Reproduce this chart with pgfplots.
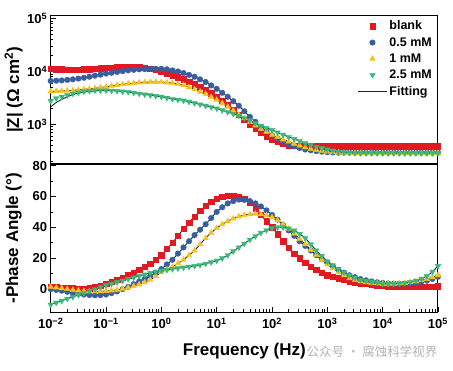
\documentclass[border=0pt]{standalone}
\usepackage{fontspec}
\setmainfont{Liberation Sans}
\newfontfamily\cjk{Noto Sans CJK SC}
\usepackage{pgfplots}
\usepackage{pgfplotstable}
\pgfplotsset{compat=1.18}

\definecolor{cred}{RGB}{225,25,35}
\definecolor{cblue}{RGB}{55,95,160}
\definecolor{cyel}{RGB}{245,195,30}
\definecolor{cgreen}{RGB}{55,185,120}
\definecolor{cfit}{RGB}{35,35,35}

% log10 |Z| values
\pgfplotstableread{
lf   blank c05  c1   c25  f25
-2.0 4.05 3.82 3.62 3.44 3.33
-1.9 4.045 3.825 3.625 3.49 3.41
-1.8 4.04 3.83 3.63 3.52 3.47
-1.7 4.035 3.84 3.635 3.55 3.52
-1.6 4.03 3.85 3.64 3.58 3.56
-1.5 4.035 3.865 3.65 3.60 3.59
-1.4 4.04 3.88 3.66 3.62 3.61
-1.3 4.045 3.90 3.67 3.63 3.62
-1.2 4.05 3.92 3.68 3.64 3.63
-1.1 4.06 3.94 3.695 3.64 3.64
-1.0 4.07 3.96 3.71 3.64 3.64
-0.9 4.075 3.975 3.725 3.635 3.635
-0.8 4.08 3.99 3.74 3.63 3.63
-0.7 4.085 4.005 3.755 3.62 3.62
-0.6 4.09 4.02 3.77 3.61 3.61
-0.5 4.085 4.03 3.78 3.595 3.595
-0.4 4.08 4.04 3.79 3.58 3.58
-0.3 4.07 4.045 3.795 3.565 3.565
-0.2 4.05 4.05 3.80 3.55 3.55
-0.1 4.03 4.05 3.80 3.535 3.535
0.0 4.00 4.05 3.80 3.52 3.52
0.1 3.97 4.04 3.79 3.50 3.50
0.2 3.93 4.02 3.78 3.48 3.48
0.3 3.89 4.00 3.76 3.465 3.465
0.4 3.85 3.97 3.74 3.45 3.45
0.5 3.805 3.935 3.70 3.425 3.425
0.6 3.76 3.90 3.66 3.40 3.40
0.7 3.71 3.85 3.615 3.375 3.375
0.8 3.65 3.80 3.57 3.35 3.35
0.9 3.585 3.735 3.515 3.325 3.325
1.0 3.52 3.67 3.46 3.30 3.30
1.1 3.445 3.595 3.395 3.265 3.265
1.2 3.37 3.52 3.33 3.23 3.23
1.3 3.275 3.435 3.255 3.195 3.195
1.4 3.18 3.35 3.18 3.16 3.16
1.5 3.09 3.245 3.11 3.115 3.115
1.6 3.00 3.14 3.04 3.07 3.07
1.7 2.92 3.045 2.975 3.02 3.02
1.8 2.84 2.95 2.91 2.97 2.97
1.9 2.77 2.87 2.855 2.93 2.93
2.0 2.71 2.79 2.80 2.89 2.89
2.1 2.665 2.73 2.755 2.845 2.845
2.2 2.63 2.67 2.71 2.80 2.80
2.3 2.605 2.62 2.67 2.76 2.76
2.4 2.59 2.58 2.63 2.72 2.72
2.5 2.585 2.55 2.595 2.68 2.68
2.6 2.58 2.52 2.56 2.64 2.64
2.7 2.58 2.505 2.535 2.605 2.605
2.8 2.58 2.49 2.51 2.57 2.57
2.9 2.58 2.48 2.495 2.545 2.545
3.0 2.58 2.47 2.48 2.52 2.52
3.1 2.58 2.465 2.47 2.50 2.50
3.2 2.58 2.46 2.46 2.48 2.48
3.3 2.58 2.46 2.455 2.47 2.47
3.4 2.58 2.46 2.45 2.46 2.46
3.5 2.58 2.46 2.45 2.455 2.455
3.6 2.58 2.46 2.45 2.45 2.45
3.7 2.58 2.46 2.45 2.45 2.45
3.8 2.58 2.46 2.45 2.45 2.45
3.9 2.58 2.46 2.45 2.45 2.45
4.0 2.58 2.46 2.45 2.45 2.45
4.1 2.58 2.46 2.45 2.45 2.45
4.2 2.58 2.46 2.45 2.45 2.45
4.3 2.58 2.46 2.45 2.45 2.45
4.4 2.58 2.46 2.45 2.45 2.45
4.5 2.58 2.46 2.45 2.45 2.45
4.6 2.58 2.46 2.45 2.45 2.45
4.7 2.58 2.46 2.45 2.45 2.45
4.8 2.58 2.46 2.45 2.45 2.45
4.9 2.58 2.46 2.45 2.45 2.45
5.0 2.58 2.46 2.45 2.45 2.45
}\zdata

% -phase angle (deg)
\pgfplotstableread{
lf   blank c05  c1   c25
-2.0 1.5 0.0 1.5 -10
-1.9 1.2 -0.5 1.0 -8.7
-1.8 1.0 -1.0 0.5 -7.5
-1.7 0.7 -1.7 0.0 -6.2
-1.6 0.5 -2.5 -0.5 -5
-1.5 0.3 -3.0 -0.9 -3.7
-1.4 0.3 -3.5 -1.2 -2.5
-1.3 0.8 -3.8 -1.4 -1.2
-1.2 1.5 -4.0 -1.5 0
-1.1 2.4 -3.9 -1.4 1.3
-1.0 3.5 -3.5 -1.2 2.5
-0.9 4.7 -2.6 -0.9 3.5
-0.8 6.0 -1.5 -0.5 4.5
-0.7 7.5 0.0 0.2 5.5
-0.6 9.0 1.5 1.0 6.5
-0.5 10.7 3.2 2.0 7.5
-0.4 12.5 5.0 3.0 8.5
-0.3 14.4 6.7 4.4 9.5
-0.2 16.5 8.5 6.0 10.5
-0.1 19.0 10.7 8.4 11.3
0.0 22 13 11 12
0.1 26 16 12.7 12.5
0.2 30 19 14.5 13
0.3 34.5 23 16.7 13.5
0.4 39 27 19 14
0.5 43 31 22 14.5
0.6 47 35 25 15
0.7 50.7 38.5 29 15.7
0.8 54 42 33 16.5
0.9 56.5 46 36.5 17.4
1.0 58.5 50 39.5 18.5
1.1 59.8 53 42 20
1.2 60.5 55.5 44 22
1.3 60.5 57 45.7 24.5
1.4 60 58 47 27
1.5 58.5 57.8 48 29.5
1.6 56 57 48.5 32
1.7 52.5 55.5 48.7 34.3
1.8 48 53.5 48.5 36.5
1.9 44 51 47.7 38.2
2.0 40 48 46.5 39.5
2.1 35.5 45 44.5 40
2.2 31 41.5 42 40
2.3 27 38 39 39.3
2.4 23 34.5 36 38
2.5 20 31 32.5 35.7
2.6 17 28 29 33
2.7 14.6 25 25.5 29
2.8 12.5 22 22 25
2.9 10.7 19.5 19 21.5
3.0 9 17 16 18
3.1 8 14.7 13.4 15.4
3.2 7 12.5 11 13
3.3 6 10.7 9 11
3.4 5 9 7 9
3.5 4.4 7.7 5.9 7.4
3.6 3.9 6.5 5 6
3.7 3.4 5.7 4.4 5.2
3.8 3 5 4 4.5
3.9 2.6 4.4 3.7 4
4.0 2.2 4 3.5 3.5
4.1 2.0 3.7 3.5 3.5
4.2 1.8 3.5 3.5 3.5
4.3 1.7 3.5 3.7 3.7
4.4 1.7 3.5 4 4
4.5 1.7 3.7 4.5 4.7
4.6 1.7 4 5 5.5
4.7 1.7 4.7 5.7 6.8
4.8 1.7 5.5 6.5 8.5
4.9 1.7 6.6 7.6 11.3
5.0 1.8 8 9 15
}\pdata

\pgfplotsset{
  bodeax/.style={
    scale only axis, width=387.3pt, height=148.3pt,
    xmin=1e-2, xmax=1e5,
    axis line style={line width=1pt, black},
    every tick/.style={black, line width=0.7pt},
    major tick length=5pt, minor tick length=2.8pt,
    xtick pos=bottom, ytick pos=left,
    tick label style={font=\fontsize{13}{15}\selectfont\bfseries},
    every axis y label/.style={at={(axis description cs:-0.0955,0.5)}, rotate=90, anchor=center},
    ylabel style={font=\fontsize{17}{20}\selectfont\bfseries},
  },
  mkred/.style={only marks, mark=square*, mark size=2.7pt, color=cred},
  mkblue/.style={only marks, mark=*, mark size=2.8pt, color=cblue},
  mkyel/.style={only marks, mark=triangle*, mark size=3.2pt, color=cyel},
  mkgreen/.style={only marks, mark=triangle*, mark size=3.2pt, color=cgreen, mark options={rotate=180}},
  fitline/.style={no marks, smooth, color=cfit, line width=0.9pt},
}

\begin{document}
\begin{tikzpicture}[x=1pt,y=1pt]
\path[use as bounding box] (0,0) rectangle (453,370);

% ---------- top panel ----------
\begin{axis}[bodeax, xmode=log, ymode=log, at={(50.7pt,206pt)}, anchor=south west,
  ymin=176, ymax=1.14e5,
  xtick=\empty, minor xtick={},
  ytick={1000,10000,100000},
  yticklabels={10\textsuperscript{3},10\textsuperscript{4},10\textsuperscript{5}},
  minor ytick={200,300,400,500,600,700,800,900,2000,3000,4000,5000,6000,7000,8000,9000,20000,30000,40000,50000,60000,70000,80000,90000},
  ylabel={|Z| (Ω cm\textsuperscript{2})},
  legend cell align=left,
  legend image code/.code={\draw[mark repeat=2,mark phase=2,#1] plot coordinates {(0pt,0pt) (14.5pt,0pt) (29pt,0pt)};},
  legend style={draw=none, fill=none, at={(1,1)}, anchor=north east,
    font=\fontsize{12.5}{14}\selectfont\bfseries, row sep=2pt,
    xshift=-1pt, yshift=-1pt},
]
\addplot[mkred] table[x expr=10^\thisrow{lf}, y expr=10^\thisrow{blank}] {\zdata};
\addlegendentry{blank}
\addplot[mkblue] table[x expr=10^\thisrow{lf}, y expr=10^\thisrow{c05}] {\zdata};
\addlegendentry{0.5 mM}
\addplot[mkyel] table[x expr=10^\thisrow{lf}, y expr=10^\thisrow{c1}] {\zdata};
\addlegendentry{1 mM}
\addplot[mkgreen] table[x expr=10^\thisrow{lf}, y expr=10^\thisrow{c25}] {\zdata};
\addlegendentry{2.5 mM}
\addplot[fitline] table[x expr=10^\thisrow{lf}, y expr=10^\thisrow{blank}] {\zdata};
\addlegendentry{Fitting}
\addplot[fitline, forget plot] table[x expr=10^\thisrow{lf}, y expr=10^\thisrow{c05}] {\zdata};
\addplot[fitline, forget plot] table[x expr=10^\thisrow{lf}, y expr=10^\thisrow{c1}] {\zdata};
\addplot[fitline, forget plot] table[x expr=10^\thisrow{lf}, y expr=10^\thisrow{f25}] {\zdata};
\end{axis}

% ---------- bottom panel ----------
\begin{axis}[bodeax, xmode=log, at={(50.7pt,57.7pt)}, anchor=south west,
  ymin=-15, ymax=81,
  xtick={1e-2,1e-1,1,10,100,1000,10000,100000},
  xticklabels={10\textsuperscript{−2},10\textsuperscript{−1},10\textsuperscript{0},10\textsuperscript{1},10\textsuperscript{2},10\textsuperscript{3},10\textsuperscript{4},10\textsuperscript{5}},
  minor xtick={0.02,0.03,0.04,0.05,0.06,0.07,0.08,0.09,0.2,0.3,0.4,0.5,0.6,0.7,0.8,0.9,2,3,4,5,6,7,8,9,20,30,40,50,60,70,80,90,200,300,400,500,600,700,800,900,2000,3000,4000,5000,6000,7000,8000,9000,20000,30000,40000,50000,60000,70000,80000,90000},
  ytick={0,20,40,60,80},
  yticklabels={0,20,40,60,80},
  minor ytick={-10,10,30,50,70},
  xticklabel style={yshift=-2pt},
  ylabel={-Phase Angle (°)},
  xlabel={Frequency (Hz)},
  every axis x label/.style={at={(axis description cs:0.5,0)}, anchor=center, yshift=-39pt, font=\fontsize{17}{20}\selectfont\bfseries},
]
\addplot[mkred] table[x expr=10^\thisrow{lf}, y=blank] {\pdata};
\addplot[mkblue] table[x expr=10^\thisrow{lf}, y=c05] {\pdata};
\addplot[mkyel] table[x expr=10^\thisrow{lf}, y=c1] {\pdata};
\addplot[mkgreen] table[x expr=10^\thisrow{lf}, y=c25] {\pdata};
\addplot[fitline] table[x expr=10^\thisrow{lf}, y=blank] {\pdata};
\addplot[fitline] table[x expr=10^\thisrow{lf}, y=c05] {\pdata};
\addplot[fitline] table[x expr=10^\thisrow{lf}, y=c1] {\pdata};
\addplot[fitline] table[x expr=10^\thisrow{lf}, y=c25] {\pdata};
\end{axis}

\node[text=black!30, font=\cjk\fontsize{12.5}{14}\selectfont] at (372pt,18.5pt) {公众号 · 腐蚀科学视界};
\end{tikzpicture}
\end{document}
